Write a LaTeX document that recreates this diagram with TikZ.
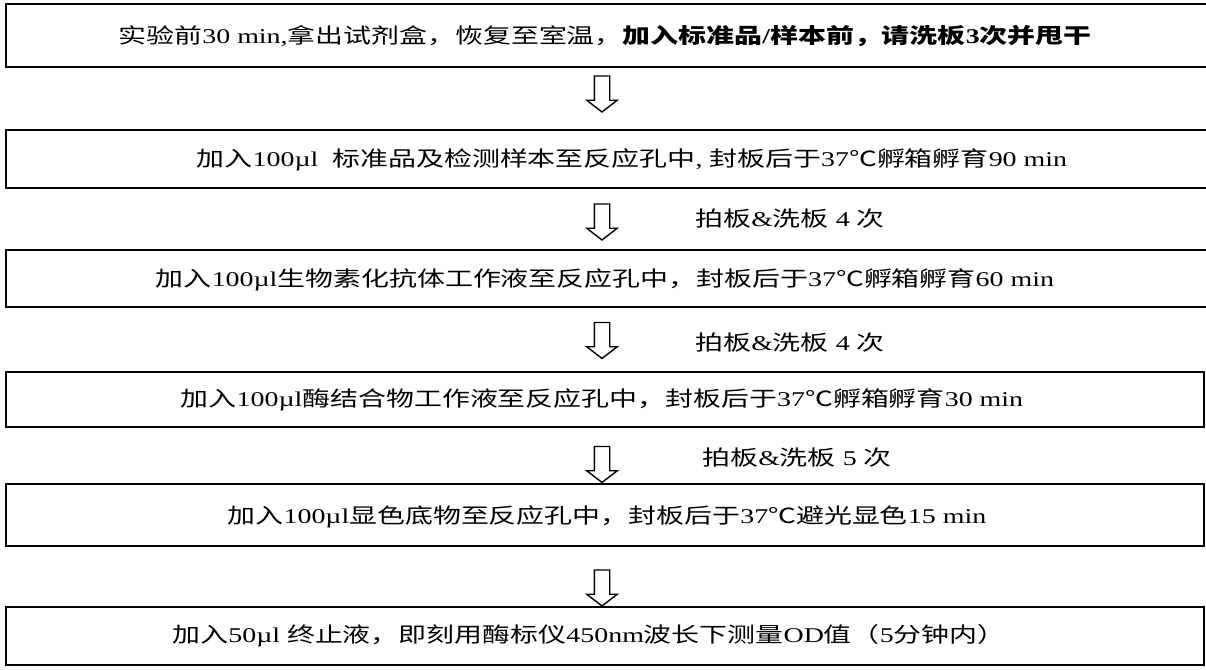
\documentclass[tikz,border=0pt]{standalone}
\usepackage{fontspec}
\setmainfont{Liberation Serif}[FakeStretch=1.33]
\newfontfamily\cjk{Noto Sans CJK SC}[FakeStretch=1.33]
\usetikzlibrary{shapes.arrows}

\begin{document}
\begin{tikzpicture}[
    x=0.5pt, y=-0.5pt,
    stepbox/.style={rectangle, draw, line width=1pt, inner sep=0pt},
    steptext/.style={font=\fontsize{10.5}{12}\selectfont, inner sep=0pt},
    washtext/.style={font=\fontsize{10.5}{12}\selectfont, inner sep=0pt, anchor=west},
    downarrow/.style={single arrow, draw, line width=0.7pt, shape border rotate=270, inner sep=3.5pt, minimum width=14.5pt, minimum height=18pt, single arrow head extend=3.75pt, single arrow tip angle=105}
]
    \useasboundingbox (0,0) rectangle (1206,670);

    \node [stepbox, minimum width=604.5pt, minimum height=31.5pt] (b1) at (610.5,35.5) {};
    \node [stepbox, minimum width=604.5pt, minimum height=29pt] (b2) at (610.5,159) {};
    \node [stepbox, minimum width=604.5pt, minimum height=28.5pt] (b3) at (610.5,278.5) {};
    \node [stepbox, minimum width=599pt, minimum height=27.5pt] (b4) at (605,399.5) {};
    \node [stepbox, minimum width=599pt, minimum height=31pt] (b5) at (605,515) {};
    \node [stepbox, minimum width=599pt, minimum height=29pt] (b6) at (605,636) {};

    \node [steptext] (t1) at (605,36) {{\cjk 实验前}30 min,{\cjk 拿出试剂盒，恢复至室温，}\textbf{{\cjk 加入标准品}/{\cjk 样本前，请洗板}3{\cjk 次并甩干}}};
    \node [steptext] (t2) at (632,160) {{\cjk 加入}100µl\ \ {\cjk 标准品及检测样本至反应孔中}, {\cjk 封板后于}37{\cjk ℃孵箱孵育}90 min};
    \node [steptext] (t3) at (605,280) {{\cjk 加入}100µl{\cjk 生物素化抗体工作液至反应孔中，封板后于}37{\cjk ℃孵箱孵育}60 min};
    \node [steptext] (t4) at (602,400) {{\cjk 加入}100µl{\cjk 酶结合物工作液至反应孔中，封板后于}37{\cjk ℃孵箱孵育}30 min};
    \node [steptext] (t5) at (607,517) {{\cjk 加入}100µl{\cjk 显色底物至反应孔中，封板后于}37{\cjk ℃避光显色}15 min};
    \node [steptext] (t6) at (589,636) {{\cjk 加入}50µl {\cjk 终止液，即刻用酶标仪}450nm{\cjk 波长下测量}OD{\cjk 值（}5{\cjk 分钟内）}};

    \node [downarrow] (a1) at (602,91) {};
    \node [downarrow] (a2) at (602,219) {};
    \node [downarrow] (a3) at (602,337.5) {};
    \node [downarrow] (a4) at (602,461.5) {};
    \node [downarrow] (a5) at (602,585) {};

    \node [washtext] (w2) at (695,219) {{\cjk 拍板}\&{\cjk 洗板} 4 {\cjk 次}};
    \node [washtext] (w3) at (695,343) {{\cjk 拍板}\&{\cjk 洗板} 4 {\cjk 次}};
    \node [washtext] (w4) at (702,458) {{\cjk 拍板}\&{\cjk 洗板} 5 {\cjk 次}};
\end{tikzpicture}
\end{document}
